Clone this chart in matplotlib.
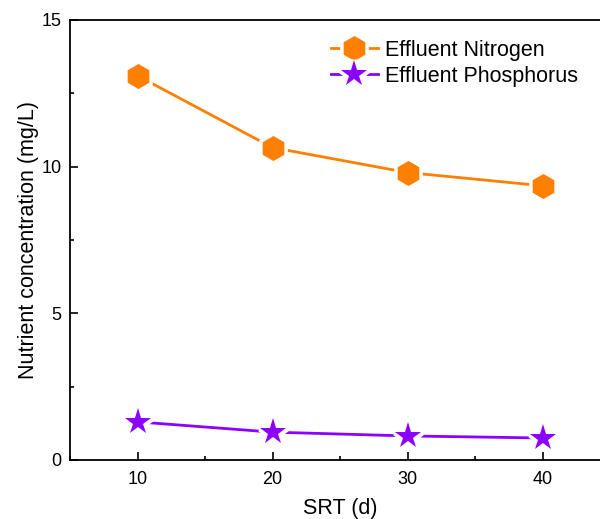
import matplotlib
matplotlib.use("Agg")
import matplotlib.pyplot as plt
from matplotlib.ticker import MultipleLocator

plt.rcParams['font.family'] = ['Liberation Sans', 'DejaVu Sans']

srt = [10, 20, 30, 40]
nitrogen = [13.1, 10.65, 9.8, 9.35]
phosphorus = [1.3, 0.95, 0.82, 0.75]

fig = plt.figure(figsize=(6, 5.19), dpi=100)
ax = fig.add_axes([70/600, 59/519, 540/600, 440/519])

orange = '#FF7F00'
purple = '#8B00FF'

def series(y, color, marker, ms):
    l, = ax.plot(srt, y, color=color, lw=2, zorder=2)
    w, = ax.plot(srt, y, ls='none', marker=marker, ms=ms, mfc='white',
                 mec='white', mew=5, zorder=3)
    m, = ax.plot(srt, y, ls='none', marker=marker, ms=ms, mfc=color,
                 mec=color, mew=0, zorder=4)
    return (l, w, m)

h1 = series(nitrogen, orange, 'h', 18)
h2 = series(phosphorus, purple, '*', 20)

ax.set_xlim(5, 45)
ax.set_ylim(0, 15)
ax.xaxis.set_major_locator(MultipleLocator(10))
ax.xaxis.set_minor_locator(MultipleLocator(5))
ax.yaxis.set_major_locator(MultipleLocator(5))
ax.yaxis.set_minor_locator(MultipleLocator(2.5))
ax.tick_params(which='major', direction='in', length=6, width=1.2,
               labelsize=13, pad=6)
ax.tick_params(axis='x', which='major', pad=8)
ax.tick_params(which='minor', direction='in', length=3, width=1.2)
ax.tick_params(top=False, right=False, which='both')
for s in ax.spines.values():
    s.set_linewidth(1.3)

ax.set_xlabel('SRT (d)', fontsize=15.5, labelpad=7)
ax.set_ylabel('Nutrient concentration (mg/L)', fontsize=15.5, labelpad=2)

leg = ax.legend([h1, h2], ['Effluent Nitrogen', 'Effluent Phosphorus'],
                loc='upper left', bbox_to_anchor=(0.467, 0.975), frameon=False,
                fontsize=15.5, handlelength=2.2, handletextpad=0.3,
                labelspacing=0.25, borderaxespad=0)

fig.savefig('out.png', dpi=100)
